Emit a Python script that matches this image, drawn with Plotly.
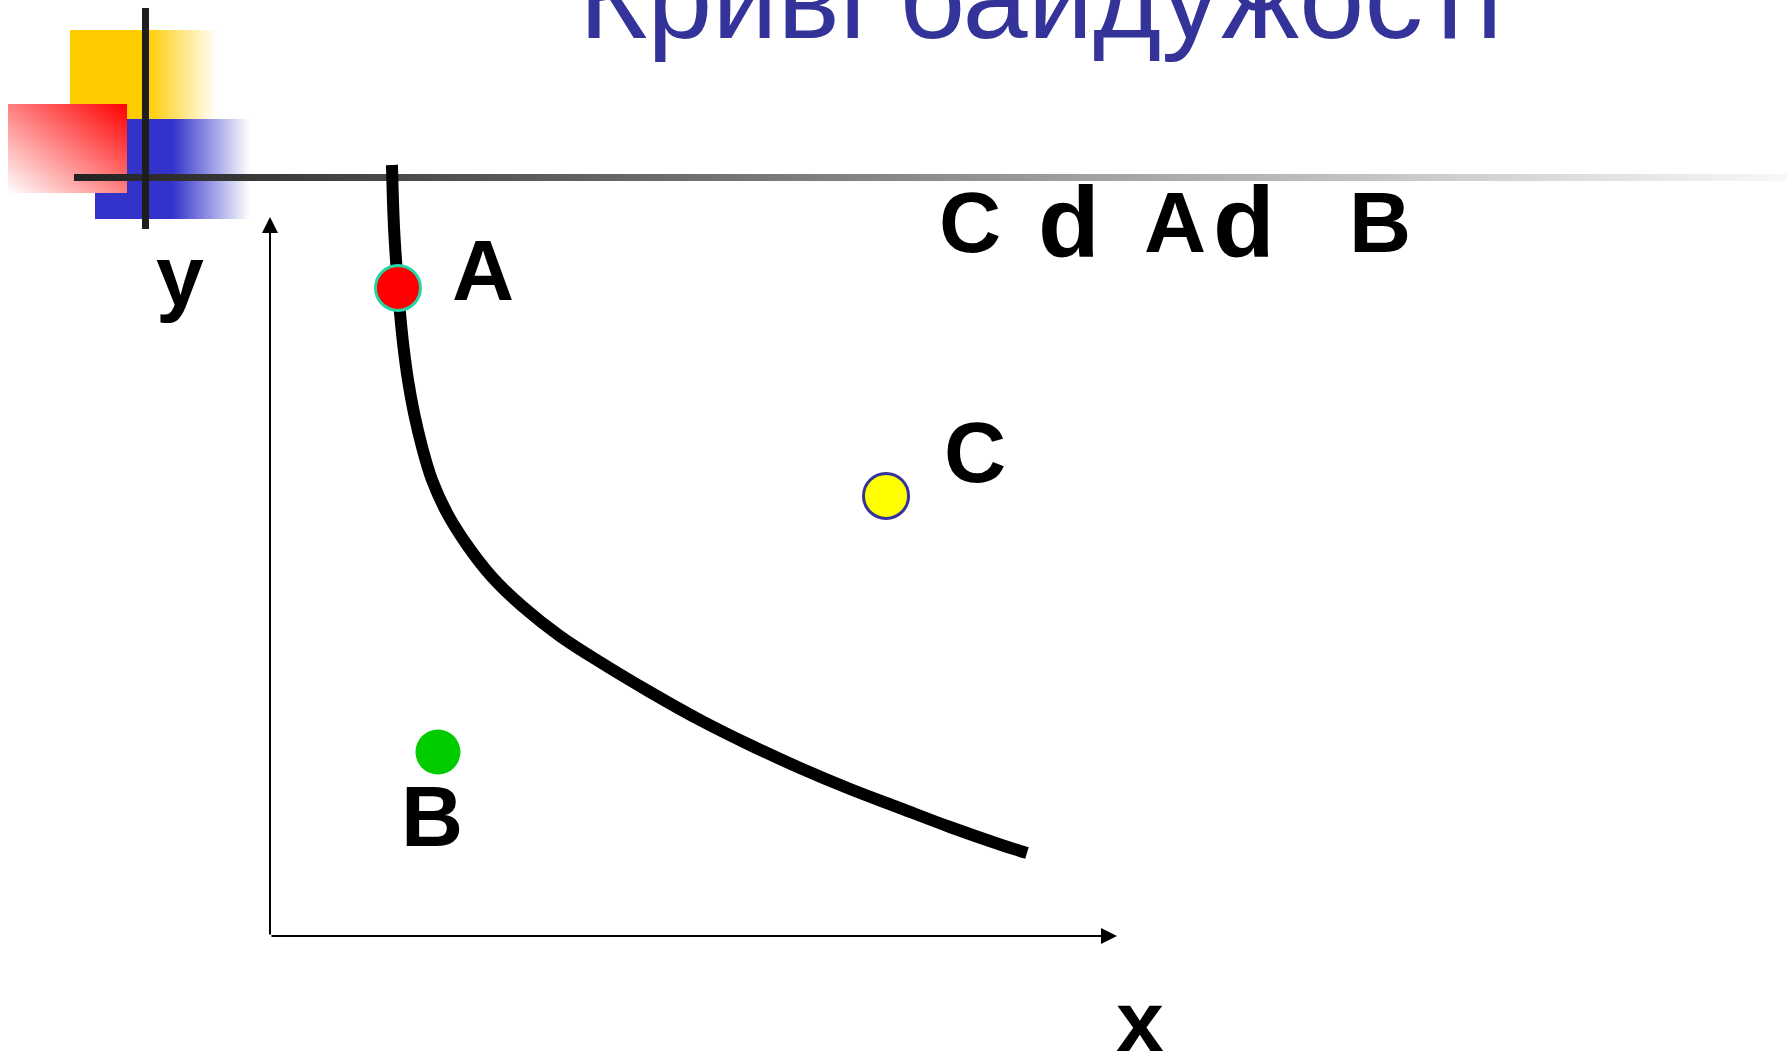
import numpy as np
import plotly.graph_objects as go

W, H = 1787, 1060

# ---------------- data (chart units) ----------------
curve_x = [1.440, 1.464, 1.511, 1.535, 1.576, 1.629, 1.700, 1.795, 1.913, 2.090, 2.326, 2.621,
           2.975, 3.424, 3.896, 4.486, 5.077, 5.667, 6.257, 6.848, 7.438, 8.028, 8.619, 8.937]
curve_y = [10.723, 9.861, 9.013, 8.665, 8.192, 7.733, 7.274, 6.801, 6.342, 5.883, 5.438, 4.993,
           4.590, 4.172, 3.811, 3.394, 3.004, 2.656, 2.337, 2.045, 1.780, 1.516, 1.273, 1.154]

point_names = ["A", "C", "B"]
point_x = [1.511, 7.273, 1.983]
point_y = [9.013, 6.120, 2.559]
point_fill = ["#FF0000", "#FFFF00", "#00CC00"]
point_edge = ["#22D6A6", "#333399", "#00CC00"]
point_edge_w = [3, 3, 0]

label_x = [2.515, 8.324, 1.913]
label_y = [9.263, 6.732, 1.669]

axis_len_x = 10.0
axis_len_y = 10.0

title_text = "Криві байдужості"
top_letters = ["C", "d", "A", "d", "B"]

# chart-unit geometry: origin pixel and pixel per unit
ORIGIN_PX = (270, 936)
UX, UY = 84.7, 71.9
x_range = [-ORIGIN_PX[0] / UX, (W - ORIGIN_PX[0]) / UX]
y_range = [-(H - ORIGIN_PX[1]) / UY, ORIGIN_PX[1] / UY]

FONT = "Liberation Sans, Arial, sans-serif"

fig = go.Figure()

# ---------------- decoration (pixel space) ----------------
def rect(x0, y0, x1, y1):
    return [x0, x1, x1, x0, x0], [y0, y0, y1, y1, y0]

# yellow
rx, ry = rect(70, 30, 217, 119)
fig.add_trace(go.Scatter(x=rx, y=ry, mode="lines", fill="toself", line=dict(width=0),
                         fillgradient=dict(type="horizontal",
                                           colorscale=[[0, "#FFCC00"], [0.52, "#FFCC00"], [1, "#FFFFFF"]]),
                         hoverinfo="skip", showlegend=False, xaxis="x", yaxis="y"))
# blue
rx, ry = rect(95, 119, 250, 219)
fig.add_trace(go.Scatter(x=rx, y=ry, mode="lines", fill="toself", line=dict(width=0),
                         fillgradient=dict(type="horizontal",
                                           colorscale=[[0, "#3333CC"], [0.5, "#3333CC"], [1, "#FFFFFF"]]),
                         hoverinfo="skip", showlegend=False, xaxis="x", yaxis="y"))

# red diagonal gradient (heatmap)
xe = np.linspace(8, 127, 25)
ye = np.linspace(104, 193, 25)
xc = (xe[:-1] + xe[1:]) / 2
yc = (ye[:-1] + ye[1:]) / 2
zz = [[((cx - 8) / 119 + 1 - (cy - 104) / 89) / 2 for cx in xc] for cy in yc]
fig.add_trace(go.Heatmap(x=xc, y=yc, z=zz, zsmooth="best", zmin=0, zmax=1,
                         colorscale=[[0, "#FFFFFF"], [1, "#FF0000"]], showscale=False,
                         hoverinfo="skip", xaxis="x2", yaxis="y2"))
# grey gradient rule
rx, ry = rect(74, 174, W, 181)
fig.add_trace(go.Scatter(x=rx, y=ry, mode="lines", fill="toself", line=dict(width=0),
                         fillgradient=dict(type="horizontal",
                                           colorscale=[[0, "#222222"], [1, "#F8F8F8"]]),
                         hoverinfo="skip", showlegend=False, xaxis="x2", yaxis="y2"))
# vertical rule
rx, ry = rect(142, 8, 149, 229)
fig.add_trace(go.Scatter(x=rx, y=ry, mode="lines", fill="toself", line=dict(width=0),
                         fillcolor="#1E1E1E", hoverinfo="skip", showlegend=False,
                         xaxis="x2", yaxis="y2"))

# ---------------- chart ----------------
fig.add_trace(go.Scatter(x=curve_x, y=curve_y, mode="lines",
                         line=dict(color="#000000", width=12, shape="spline", smoothing=1.0,
                                   simplify=False),
                         hoverinfo="skip", showlegend=False, xaxis="x3", yaxis="y3"))
fig.add_trace(go.Scatter(x=point_x, y=point_y, mode="markers",
                         marker=dict(size=45, color=point_fill,
                                     line=dict(color=point_edge, width=point_edge_w)),
                         text=point_names, hoverinfo="text", showlegend=False,
                         xaxis="x3", yaxis="y3"))

annotations = []
# axes arrows
annotations.append(dict(x=0, y=axis_len_y, ax=0, ay=0, xref="x3", yref="y3", axref="x3", ayref="y3",
                        text="", showarrow=True, arrowhead=2, arrowsize=1.6, arrowwidth=2,
                        arrowcolor="black", standoff=0))
annotations.append(dict(x=axis_len_x, y=0, ax=0, ay=0, xref="x3", yref="y3", axref="x3", ayref="y3",
                        text="", showarrow=True, arrowhead=2, arrowsize=1.6, arrowwidth=2,
                        arrowcolor="black", standoff=0))

# point labels
for name, lx, ly in zip(point_names, label_x, label_y):
    annotations.append(dict(x=lx, y=ly, xref="x3", yref="y3", text=f"<b>{name}</b>", showarrow=False,
                            xanchor="center", yanchor="middle",
                            font=dict(family=FONT, size=86, color="black")))
# axis labels
annotations.append(dict(x=-1.063, y=9.19, xref="x3", yref="y3", text="<b>y</b>", showarrow=False,
                        xanchor="center", yanchor="middle", font=dict(family=FONT, size=86, color="black")))
annotations.append(dict(x=10.27, y=-1.182, xref="x3", yref="y3", text="<b>x</b>", showarrow=False,
                        xanchor="center", yanchor="middle", font=dict(family=FONT, size=86, color="black")))

# top letters (pixel positions -> paper)
top_cx = [970, 1069, 1175, 1244, 1380]
top_cy = [222, 222, 222, 222, 222]
top_fs = [86, 101, 86, 101, 86]
for t, cx, cy, fs in zip(top_letters, top_cx, top_cy, top_fs):
    annotations.append(dict(x=cx / W, y=1 - cy / H, xref="paper", yref="paper", text=f"<b>{t}</b>",
                            showarrow=False, xanchor="center", yanchor="middle",
                            font=dict(family=FONT, size=fs, color="black")))

# title
annotations.append(dict(x=1041 / W, y=1 + 2.5 / H, xref="paper", yref="paper", text=title_text,
                        showarrow=False, xanchor="center", yanchor="middle",
                        font=dict(family=FONT, size=117, color="#333399")))

hidden = dict(visible=False, showgrid=False, zeroline=False, fixedrange=True)
fig.update_layout(
    width=W, height=H, margin=dict(l=0, r=0, t=0, b=0),
    paper_bgcolor="white", plot_bgcolor="rgba(0,0,0,0)",
    showlegend=False,
    xaxis=dict(range=[0, W], domain=[0, 1], anchor="y", **hidden),
    yaxis=dict(range=[H, 0], domain=[0, 1], anchor="x", **hidden),
    xaxis2=dict(range=[0, W], overlaying="x", anchor="y2", **hidden),
    yaxis2=dict(range=[H, 0], overlaying="y", anchor="x2", **hidden),
    xaxis3=dict(range=x_range, overlaying="x", anchor="y3", **hidden),
    yaxis3=dict(range=y_range, overlaying="y", anchor="x3", **hidden),
    annotations=annotations,
)

fig.write_html("out.html", config={"displayModeBar": False},
               post_script="document.body.style.margin='0';document.body.style.overflow='hidden';")
